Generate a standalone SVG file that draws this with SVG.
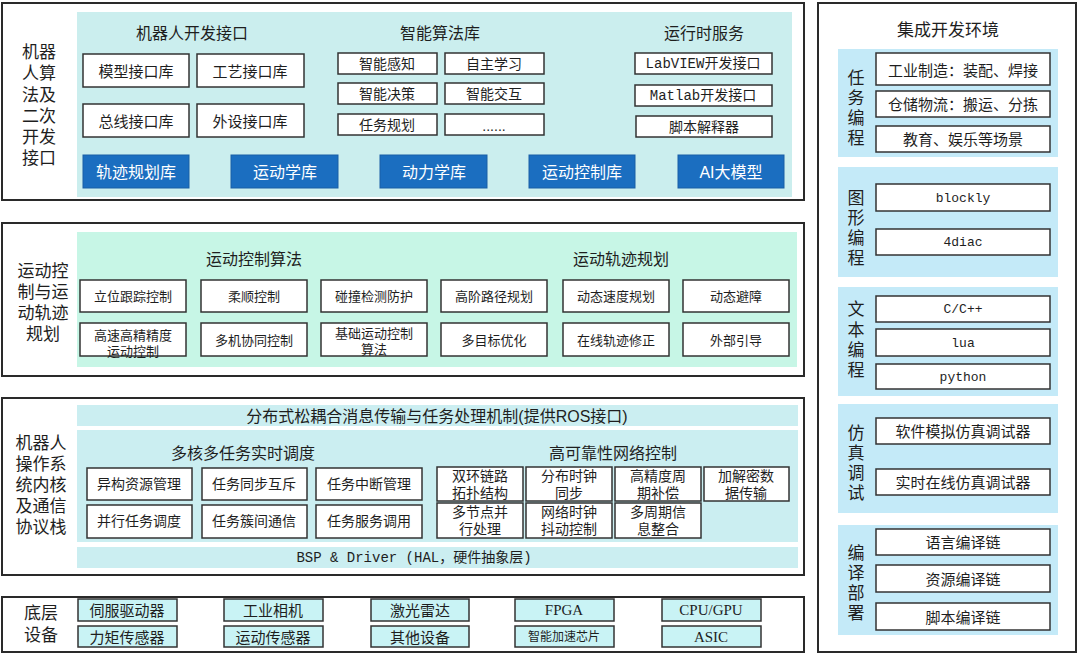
<svg xmlns="http://www.w3.org/2000/svg" width="1080" height="656" viewBox="0 0 1080 656">
<style>
text{font-family:"Liberation Sans","Noto Sans CJK SC",sans-serif;fill:#1e1e1e;text-anchor:middle;dominant-baseline:central}
.outer{fill:#fff;stroke:#2a2a2a;stroke-width:2}
.p1{fill:#cbeeee}
.p2{fill:#c7f6e6}
.p3{fill:#cbeef1}
.pi{fill:#c4eaf8}
.b{fill:#fff;stroke:#333;stroke-width:1.5}
.bb{fill:#1b6ec0;stroke:#1a5ea5;stroke-width:1}
.bc{fill:#c9f3f5;stroke:#333;stroke-width:1.5}
.lab{font-size:17px}
.ttl{font-size:16px}
.t15{font-size:15px}
.t14{font-size:14px}
.t13{font-size:13px}
.t12{font-size:12px}
.w{fill:#fff;font-size:16px}
.mono{font-family:"Liberation Mono","Noto Sans CJK SC",monospace}
.serif{font-family:"Liberation Serif","Noto Sans CJK SC",serif}
</style>

<!-- Section 1 -->
<g id="sec1">
<rect class="outer" x="2" y="3" width="802" height="197"/>
<rect class="p1" x="77" y="12" width="715" height="185"/>
<text class="lab"><tspan x="39" y="52">机器</tspan><tspan x="39" y="73">人算</tspan><tspan x="39" y="95">法及</tspan><tspan x="39" y="116">二次</tspan><tspan x="39" y="137">开发</tspan><tspan x="39" y="158">接口</tspan></text>
<text class="ttl" x="192" y="33">机器人开发接口</text>
<text class="ttl" x="440" y="33">智能算法库</text>
<text class="ttl" x="704" y="33">运行时服务</text>
</g>
<g id="n-model"><rect class="b" x="83" y="54" width="106" height="33"/><text class="t15" x="136" y="71">模型接口库</text></g>
<g id="n-craft"><rect class="b" x="197" y="54" width="107" height="33"/><text class="t15" x="250" y="71">工艺接口库</text></g>
<g id="n-bus"><rect class="b" x="83" y="104" width="106" height="33"/><text class="t15" x="136" y="121">总线接口库</text></g>
<g id="n-periph"><rect class="b" x="197" y="104" width="107" height="33"/><text class="t15" x="250" y="121">外设接口库</text></g>
<g id="n-sense"><rect class="b" x="338" y="53" width="99" height="21"/><text class="t14" x="387" y="64">智能感知</text></g>
<g id="n-learn"><rect class="b" x="445" y="53" width="99" height="21"/><text class="t14" x="494" y="64">自主学习</text></g>
<g id="n-decide"><rect class="b" x="338" y="83" width="99" height="21"/><text class="t14" x="387" y="94">智能决策</text></g>
<g id="n-interact"><rect class="b" x="445" y="83" width="99" height="21"/><text class="t14" x="494" y="94">智能交互</text></g>
<g id="n-taskplan"><rect class="b" x="338" y="114" width="99" height="21"/><text class="t14" x="387" y="125">任务规划</text></g>
<g id="n-etc"><rect class="b" x="445" y="114" width="99" height="21"/><text class="t14" x="494" y="126">......</text></g>
<g id="n-labview"><rect class="b" x="635" y="53" width="137" height="21"/><text class="t14 mono" x="703" y="64">LabVIEW开发接口</text></g>
<g id="n-matlab"><rect class="b" x="635" y="85" width="137" height="21"/><text class="t14 mono" x="703" y="96">Matlab开发接口</text></g>
<g id="n-script"><rect class="b" x="636" y="116" width="136" height="21"/><text class="t14" x="704" y="127">脚本解释器</text></g>
<g id="n-traj"><rect class="bb" x="83" y="155" width="106" height="33"/><text class="w" x="136" y="172">轨迹规划库</text></g>
<g id="n-kin"><rect class="bb" x="231" y="155" width="107" height="33"/><text class="w" x="285" y="172">运动学库</text></g>
<g id="n-dyn"><rect class="bb" x="380" y="155" width="107" height="33"/><text class="w" x="434" y="172">动力学库</text></g>
<g id="n-mctl"><rect class="bb" x="529" y="155" width="106" height="33"/><text class="w" x="582" y="172">运动控制库</text></g>
<g id="n-ai"><rect class="bb" x="678" y="155" width="106" height="33"/><text class="w" x="731" y="172">AI大模型</text></g>

<!-- Section 2 -->
<g id="sec2">
<rect class="outer" x="2" y="223" width="802" height="153"/>
<rect class="p2" x="77" y="232" width="720" height="135"/>
<text class="lab"><tspan x="43" y="271">运动控</tspan><tspan x="43" y="292">制与运</tspan><tspan x="43" y="313">动轨迹</tspan><tspan x="43" y="334">规划</tspan></text>
<text class="ttl" x="254" y="259">运动控制算法</text>
<text class="ttl" x="621" y="259">运动轨迹规划</text>
</g>
<g id="n-s2-1"><rect class="b" x="80" y="280" width="106" height="32"/><text class="t13" x="133" y="296">立位跟踪控制</text></g>
<g id="n-s2-2"><rect class="b" x="201" y="280" width="106" height="32"/><text class="t13" x="254" y="296">柔顺控制</text></g>
<g id="n-s2-3"><rect class="b" x="321" y="280" width="106" height="32"/><text class="t13" x="374" y="296">碰撞检测防护</text></g>
<g id="n-s2-4"><rect class="b" x="441" y="280" width="106" height="32"/><text class="t13" x="494" y="296">高阶路径规划</text></g>
<g id="n-s2-5"><rect class="b" x="563" y="280" width="106" height="32"/><text class="t13" x="616" y="296">动态速度规划</text></g>
<g id="n-s2-6"><rect class="b" x="683" y="280" width="106" height="32"/><text class="t13" x="736" y="296">动态避障</text></g>
<g id="n-s2-7"><rect class="b" x="80" y="323" width="106" height="33"/><text class="t13"><tspan x="133" y="335">高速高精精度</tspan><tspan x="133" y="351">运动控制</tspan></text></g>
<g id="n-s2-8"><rect class="b" x="201" y="323" width="106" height="33"/><text class="t13" x="254" y="340">多机协同控制</text></g>
<g id="n-s2-9"><rect class="b" x="321" y="323" width="106" height="33"/><text class="t13"><tspan x="374" y="333">基础运动控制</tspan><tspan x="374" y="349">算法</tspan></text></g>
<g id="n-s2-10"><rect class="b" x="441" y="323" width="106" height="33"/><text class="t13" x="494" y="340">多目标优化</text></g>
<g id="n-s2-11"><rect class="b" x="563" y="323" width="106" height="33"/><text class="t13" x="616" y="340">在线轨迹修正</text></g>
<g id="n-s2-12"><rect class="b" x="683" y="323" width="106" height="33"/><text class="t13" x="736" y="340">外部引导</text></g>

<!-- Section 3 -->
<g id="sec3">
<rect class="outer" x="2" y="398" width="802" height="177"/>
<rect class="p3" x="77" y="405" width="721" height="21"/>
<rect class="p3" x="77" y="430" width="721" height="112"/>
<rect class="p3" x="77" y="547" width="721" height="21"/>
<text class="lab"><tspan x="41" y="443">机器人</tspan><tspan x="41" y="464">操作系</tspan><tspan x="41" y="485">统内核</tspan><tspan x="41" y="506">及通信</tspan><tspan x="41" y="527">协议栈</tspan></text>
<text class="ttl" x="437" y="416">分布式松耦合消息传输与任务处理机制(提供ROS接口)</text>
<text class="ttl" x="243" y="453">多核多任务实时调度</text>
<text class="ttl" x="613" y="453">高可靠性网络控制</text>
<text class="t14 mono" x="414" y="558">BSP &amp; Driver (HAL，硬件抽象层)</text>
</g>
<g id="n-s3-1"><rect class="b" x="87" y="468" width="105" height="32"/><text class="t14" x="139" y="484">异构资源管理</text></g>
<g id="n-s3-2"><rect class="b" x="202" y="468" width="105" height="32"/><text class="t14" x="254" y="484">任务同步互斥</text></g>
<g id="n-s3-3"><rect class="b" x="316" y="468" width="106" height="32"/><text class="t14" x="369" y="484">任务中断管理</text></g>
<g id="n-s3-4"><rect class="b" x="87" y="505" width="105" height="33"/><text class="t14" x="139" y="521">并行任务调度</text></g>
<g id="n-s3-5"><rect class="b" x="202" y="505" width="105" height="33"/><text class="t14" x="254" y="521">任务簇间通信</text></g>
<g id="n-s3-6"><rect class="b" x="316" y="505" width="106" height="33"/><text class="t14" x="369" y="521">任务服务调用</text></g>
<g id="n-s3-7"><rect class="b" x="437" y="467" width="86" height="34"/><text class="t14"><tspan x="480" y="476">双环链路</tspan><tspan x="480" y="493">拓扑结构</tspan></text></g>
<g id="n-s3-8"><rect class="b" x="526" y="467" width="86" height="34"/><text class="t14"><tspan x="569" y="476">分布时钟</tspan><tspan x="569" y="493">同步</tspan></text></g>
<g id="n-s3-9"><rect class="b" x="615" y="467" width="86" height="34"/><text class="t14"><tspan x="658" y="476">高精度周</tspan><tspan x="658" y="493">期补偿</tspan></text></g>
<g id="n-s3-10"><rect class="b" x="704" y="467" width="85" height="34"/><text class="t14"><tspan x="746" y="476">加解密数</tspan><tspan x="746" y="493">据传输</tspan></text></g>
<g id="n-s3-11"><rect class="b" x="437" y="503" width="86" height="35"/><text class="t14"><tspan x="480" y="512">多节点并</tspan><tspan x="480" y="529">行处理</tspan></text></g>
<g id="n-s3-12"><rect class="b" x="526" y="503" width="86" height="35"/><text class="t14"><tspan x="569" y="512">网络时钟</tspan><tspan x="569" y="529">抖动控制</tspan></text></g>
<g id="n-s3-13"><rect class="b" x="615" y="503" width="86" height="35"/><text class="t14"><tspan x="658" y="512">多周期信</tspan><tspan x="658" y="529">息整合</tspan></text></g>

<!-- Section 4 -->
<g id="sec4">
<rect class="outer" x="2" y="597" width="802" height="55"/>
<text class="lab"><tspan x="41" y="613">底层</tspan><tspan x="41" y="635">设备</tspan></text>
</g>
<g id="n-s4-1"><rect class="bc" x="78" y="599" width="99" height="22"/><text class="t15" x="127" y="610">伺服驱动器</text></g>
<g id="n-s4-2"><rect class="bc" x="224" y="599" width="99" height="22"/><text class="t15" x="273" y="610">工业相机</text></g>
<g id="n-s4-3"><rect class="bc" x="371" y="599" width="98" height="22"/><text class="t15" x="420" y="610">激光雷达</text></g>
<g id="n-s4-4"><rect class="bc" x="515" y="599" width="99" height="22"/><text class="t15 serif" x="564" y="610">FPGA</text></g>
<g id="n-s4-5"><rect class="bc" x="662" y="599" width="99" height="22"/><text class="t15 serif" x="711" y="610">CPU/GPU</text></g>
<g id="n-s4-6"><rect class="bc" x="78" y="626" width="99" height="21"/><text class="t15" x="127" y="637">力矩传感器</text></g>
<g id="n-s4-7"><rect class="bc" x="224" y="626" width="99" height="21"/><text class="t15" x="273" y="637">运动传感器</text></g>
<g id="n-s4-8"><rect class="bc" x="371" y="626" width="98" height="21"/><text class="t15" x="420" y="637">其他设备</text></g>
<g id="n-s4-9"><rect class="bc" x="515" y="626" width="99" height="21"/><text class="t12" x="564" y="637">智能加速芯片</text></g>
<g id="n-s4-10"><rect class="bc" x="662" y="626" width="99" height="21"/><text class="t15 serif" x="711" y="637">ASIC</text></g>

<!-- IDE -->
<g id="ide">
<rect class="outer" x="818" y="3" width="258" height="649"/>
<text class="lab" x="948" y="30">集成开发环境</text>
<rect class="pi" x="838" y="49" width="220" height="108"/>
<rect class="pi" x="838" y="167" width="220" height="110"/>
<rect class="pi" x="838" y="287" width="220" height="109"/>
<rect class="pi" x="838" y="404" width="220" height="109"/>
<rect class="pi" x="838" y="525" width="220" height="110"/>
<text class="lab"><tspan x="856" y="78">任</tspan><tspan x="856" y="98">务</tspan><tspan x="856" y="118">编</tspan><tspan x="856" y="138">程</tspan></text>
<text class="lab"><tspan x="856" y="198">图</tspan><tspan x="856" y="218">形</tspan><tspan x="856" y="238">编</tspan><tspan x="856" y="258">程</tspan></text>
<text class="lab"><tspan x="856" y="309">文</tspan><tspan x="856" y="330">本</tspan><tspan x="856" y="350">编</tspan><tspan x="856" y="370">程</tspan></text>
<text class="lab"><tspan x="856" y="433">仿</tspan><tspan x="856" y="453">真</tspan><tspan x="856" y="473">调</tspan><tspan x="856" y="493">试</tspan></text>
<text class="lab"><tspan x="856" y="553">编</tspan><tspan x="856" y="573">译</tspan><tspan x="856" y="593">部</tspan><tspan x="856" y="613">署</tspan></text>
</g>
<g id="n-i-1"><rect class="b" x="876" y="53" width="174" height="32"/><text class="t15" x="963" y="70">工业制造：装配、焊接</text></g>
<g id="n-i-2"><rect class="b" x="876" y="91" width="174" height="26"/><text class="t15" x="963" y="104">仓储物流：搬运、分拣</text></g>
<g id="n-i-3"><rect class="b" x="876" y="126" width="174" height="26"/><text class="t15" x="963" y="139">教育、娱乐等场景</text></g>
<g id="n-i-4"><rect class="b" x="876" y="184" width="174" height="27"/><text class="t13 mono" x="963" y="198">blockly</text></g>
<g id="n-i-5"><rect class="b" x="876" y="229" width="174" height="26"/><text class="t13 mono" x="963" y="242">4diac</text></g>
<g id="n-i-6"><rect class="b" x="876" y="296" width="174" height="26"/><text class="t13 mono" x="963" y="309">C/C++</text></g>
<g id="n-i-7"><rect class="b" x="876" y="329" width="174" height="27"/><text class="t13 mono" x="963" y="343">lua</text></g>
<g id="n-i-8"><rect class="b" x="876" y="364" width="174" height="25"/><text class="t13 mono" x="963" y="377">python</text></g>
<g id="n-i-9"><rect class="b" x="876" y="418" width="174" height="26"/><text class="t15" x="963" y="431">软件模拟仿真调试器</text></g>
<g id="n-i-10"><rect class="b" x="876" y="469" width="174" height="26"/><text class="t15" x="963" y="482">实时在线仿真调试器</text></g>
<g id="n-i-11"><rect class="b" x="876" y="529" width="174" height="26"/><text class="t15" x="963" y="542">语言编译链</text></g>
<g id="n-i-12"><rect class="b" x="876" y="565" width="174" height="27"/><text class="t15" x="963" y="579">资源编译链</text></g>
<g id="n-i-13"><rect class="b" x="876" y="603" width="174" height="27"/><text class="t15" x="963" y="617">脚本编译链</text></g>

<g id="connectors"></g>
</svg>
